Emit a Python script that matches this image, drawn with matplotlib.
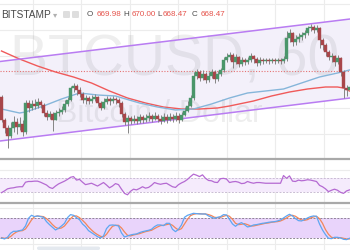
"""
BTCUSD 60 min chart, Bitstamp - channel, two moving averages, RSI and stochastic panes
"""

import matplotlib
matplotlib.use("Agg")
import matplotlib.pyplot as plt
from matplotlib.lines import Line2D
from matplotlib.patches import FancyBboxPatch
import numpy as np

# ---- price data (hourly candles) ----
first_open = 667.3
closes = [665.0, 664.2, 663.4, 664.2, 664.8, 664.3, 664.6, 663.8, 666.7, 666.2,
          666.6, 666.4, 666.8, 666.5, 665.7, 665.3, 665.6, 665.0, 665.7, 665.8,
          666.0, 666.6, 667.0, 668.2, 668.4, 668.0, 667.6, 667.0, 667.2, 666.9,
          667.1, 667.3, 666.7, 666.2, 666.8, 667.1, 666.9, 667.1, 667.0, 666.7,
          665.6, 664.8, 665.2, 664.9, 665.1, 664.9, 665.3, 665.0, 665.2, 665.4,
          665.1, 665.4, 665.1, 664.9, 665.3, 665.0, 665.3, 665.1, 665.4, 665.0,
          665.5, 665.9, 666.4, 667.2, 669.4, 669.8, 669.2, 669.6, 669.0, 669.4,
          669.8, 669.1, 669.6, 670.0, 671.0, 671.3, 671.5, 670.8, 671.3, 670.6,
          671.0, 670.8, 671.0, 671.4, 671.1, 670.7, 671.0, 670.9, 671.0, 670.9,
          671.0, 670.9, 671.0, 670.9, 671.1, 673.2, 673.7, 672.8, 673.1, 673.3,
          673.5, 673.7, 674.2, 674.3, 674.0, 674.2, 673.0, 672.5, 671.8, 671.3,
          671.4, 670.8, 671.2, 669.8, 668.2, 668.0, 668.3]
highs = [667.5, 665.2, 664.5, 664.8, 665.4, 665.2, 665.3, 665.0, 667.0, 667.0,
         667.0, 667.1, 667.2, 667.0, 666.7, 666.0, 665.9, 665.8, 666.0, 666.2,
         666.4, 667.0, 667.3, 668.4, 668.7, 668.6, 668.3, 667.8, 667.5, 667.4,
         667.5, 667.6, 667.4, 666.9, 667.2, 667.4, 667.3, 667.4, 667.3, 667.2,
         666.9, 665.8, 665.5, 665.4, 665.5, 665.4, 665.6, 665.5, 665.6, 665.8,
         665.6, 665.8, 665.6, 665.5, 665.7, 665.6, 665.7, 665.6, 665.8, 665.7,
         665.8, 666.3, 666.9, 667.5, 669.8, 670.1, 670.0, 670.0, 669.8, 669.8,
         670.1, 670.0, 669.9, 670.2, 671.3, 671.7, 671.8, 671.7, 671.6, 671.4,
         671.3, 671.2, 671.3, 671.7, 671.5, 671.3, 671.3, 671.2, 671.2, 671.2,
         671.2, 671.2, 671.2, 671.2, 671.4, 673.9, 674.1, 673.8, 673.5, 673.7,
         673.8, 674.0, 674.4, 674.6, 674.5, 674.5, 674.3, 673.2, 672.7, 672.0,
         671.7, 671.5, 671.5, 671.3, 670.0, 668.5, 668.6]
lows = [664.8, 663.7, 662.2, 663.2, 663.8, 663.6, 664.0, 663.4, 663.6, 665.8,
        666.0, 666.1, 666.2, 666.2, 665.4, 665.0, 665.1, 663.9, 665.2, 665.4,
        665.6, 665.8, 666.4, 666.9, 667.8, 667.5, 667.3, 666.7, 666.6, 666.6,
        666.7, 666.9, 666.4, 666.0, 666.1, 666.6, 666.5, 666.7, 666.6, 666.3,
        665.3, 664.5, 663.7, 664.6, 664.7, 664.6, 664.7, 664.7, 664.8, 664.9,
        664.8, 665.0, 664.8, 664.6, 664.8, 664.7, 664.9, 664.8, 664.9, 664.7,
        664.9, 665.4, 665.8, 666.3, 667.0, 669.1, 668.9, 669.0, 668.7, 668.8,
        669.2, 668.7, 668.9, 669.4, 669.8, 670.8, 671.0, 670.2, 670.6, 670.3,
        670.4, 670.5, 670.6, 670.8, 670.7, 670.4, 670.5, 670.6, 670.7, 670.6,
        670.7, 670.6, 670.7, 670.6, 670.7, 670.9, 672.8, 672.4, 672.5, 672.8,
        673.0, 673.2, 673.5, 673.9, 673.7, 673.8, 672.2, 672.0, 671.4, 671.0,
        670.8, 670.4, 670.6, 669.4, 667.2, 667.4, 667.8]

# moving averages (read at some bars)
ma_slow_idx = [0, 6, 12, 18, 24, 30, 36, 42, 48, 54, 60, 66, 72, 76, 84, 90,
               96, 102, 108, 112, 114, 116]
ma_slow = [671.9, 671.1, 670.4, 669.8, 669.3, 668.7, 667.9, 667.2, 666.7, 666.3,
           666.1, 666.1, 666.2, 666.4, 666.9, 667.4, 667.8, 668.1, 668.3, 668.3,
           668.2, 667.9]
ma_fast_idx = [0, 6, 8, 14, 20, 26, 32, 38, 46, 52, 58, 64, 70, 76, 82, 88, 94,
               100, 106, 112, 116]
ma_fast = [666.1, 665.7, 665.8, 666.4, 667.1, 667.7, 667.5, 667.4, 666.7, 666.3,
           666.0, 666.1, 666.6, 667.2, 667.7, 667.9, 668.1, 668.7, 669.3, 669.7,
           670.0]

# channel drawn on the chart
channel_x = [-0.5, 116.2]
channel_upper = [670.85, 675.1]
channel_lower = [662.9, 667.2]
price_line = 669.9

rsi = [28, 33, 39, 41, 42, 44, 45, 45, 58, 60, 60, 61, 61, 58, 54, 50, 43, 40,
       47, 53, 57, 61, 66, 72, 74, 64, 66, 58, 51, 53, 55, 51, 47, 52, 57, 50,
       42, 47, 54, 51, 38, 26, 22, 32, 38, 36, 40, 45, 41, 43, 49, 57, 54, 52,
       54, 55, 50, 45, 43, 51, 56, 60, 66, 74, 81, 78, 74, 79, 69, 63, 62, 58,
       57, 68, 69, 67, 57, 59, 60, 58, 54, 55, 60, 57, 55, 57, 57, 56, 55, 55,
       55, 55, 55, 55, 77, 69, 76, 61, 60, 64, 62, 63, 65, 64, 62, 60, 49, 45,
       39, 31, 35, 38, 35, 29, 26, 33, 36]

stoch_k = [21, 18, 23, 35, 41, 41, 43, 45, 57, 80, 89, 85, 87, 85, 83, 70, 61,
           53, 45, 50, 57, 65, 82, 91, 89, 82, 76, 63, 55, 43, 37, 31, 25, 21,
           27, 49, 59, 60, 59, 57, 36, 24, 27, 30, 32, 33, 37, 40, 42, 44, 47,
           55, 60, 60, 58, 65, 65, 47, 40, 47, 60, 83, 89, 92, 95, 94, 93, 93,
           93, 87, 83, 80, 83, 85, 91, 90, 77, 63, 56, 63, 67, 61, 54, 56, 60,
           61, 63, 65, 66, 68, 69, 70, 72, 75, 81, 87, 92, 87, 79, 73, 72, 76,
           81, 85, 87, 86, 63, 45, 31, 20, 19, 23, 23, 21, 17, 16, 20]
stoch_d = [22, 20, 21, 25, 33, 39, 42, 43, 48, 61, 75, 85, 87, 86, 85, 79, 71,
           61, 53, 49, 51, 57, 68, 79, 87, 87, 82, 74, 65, 54, 45, 37, 31, 26,
           24, 32, 45, 56, 59, 59, 51, 39, 29, 27, 30, 32, 34, 37, 40, 42, 44,
           49, 54, 58, 59, 61, 63, 59, 51, 45, 49, 63, 77, 88, 92, 94, 94, 93,
           93, 91, 88, 83, 82, 83, 86, 89, 86, 77, 65, 61, 62, 64, 61, 57, 57,
           59, 61, 63, 65, 66, 68, 69, 70, 72, 76, 81, 87, 89, 86, 80, 75, 74,
           76, 81, 84, 86, 79, 65, 46, 32, 23, 21, 22, 22, 20, 18, 18]

header_items = [("O", "669.98"), ("H", "670.00"), ("L", "668.47"), ("C", "668.47")]

# ---- style ----
UP = "#4a966a"
DOWN = "#a8464a"
WICK = "#858585"
GRID = "#ececec"
PURPLE = "#b97cf2"
FONT = ["Liberation Sans", "DejaVu Sans"]
plt.rcParams["font.family"] = FONT

W, H = 350, 250
fig = plt.figure(figsize=(W / 100, H / 100), dpi=100)
fig.patch.set_facecolor("white")


def pane(top, bottom):
    """axes spanning pixel rows top..bottom"""
    ax = fig.add_axes([0, 1 - bottom / H, 1, (bottom - top) / H])
    ax.set_xlim(-0.5, -0.5 + W / 3)
    ax.set_axis_off()
    return ax


vgrid = np.arange(10.5, 117, 16.15)
n = len(closes)
x = np.arange(n)

# ---- main pane ----
ax = pane(0, 158)
ax.set_ylim(677 - 15.8, 677)
for g in vgrid:
    ax.axvline(g, color=GRID, lw=0.8, zorder=0)
for g in np.arange(663.6, 677, 2.6):
    ax.axhline(g, color=GRID, lw=0.8, zorder=0)

ax.fill_between(channel_x, channel_lower, channel_upper, color="#f3f0fa", zorder=1, lw=0)
ax.plot(channel_x, channel_upper, color=PURPLE, lw=1.1, zorder=5)
ax.plot(channel_x, channel_lower, color=PURPLE, lw=1.1, zorder=5)

# watermark
ax.text(0.5, 0.62, "BTCUSD, 60", transform=ax.transAxes, ha="center", va="center",
        fontsize=41, color=(0, 0, 0, 0.065), zorder=2)
ax.text(0.455, 0.28, "Bitcoin / Dollar", transform=ax.transAxes, ha="center",
        va="center", fontsize=23, color=(0, 0, 0, 0.065), zorder=2)

ax.axhline(price_line, color="#e57373", lw=0.8, ls=(0, (1, 1.5)), zorder=3)
ax.plot(ma_slow_idx, ma_slow, color="#f05a5a", lw=1.0, zorder=4)
ax.plot(ma_fast_idx, ma_fast, color="#86b6da", lw=1.0, zorder=4)

opens = [first_open] + closes[:-1]
o = np.array(opens)
c = np.array(closes)
hi = np.maximum(np.array(highs), np.maximum(o, c))
lo = np.minimum(np.array(lows), np.minimum(o, c))
up = c >= o
cols = np.where(up, UP, DOWN)
ax.vlines(x, lo, hi, color=WICK, lw=0.7, zorder=6)
body = np.maximum(np.abs(c - o), 0.08)
ax.bar(x, body, bottom=np.minimum(o, c), width=0.75, color=cols, edgecolor=cols,
       lw=0.3, zorder=7)

# ---- RSI pane ----
ax_rsi = pane(160, 202)
ax_rsi.set_ylim(1.4, 121.4)
for g in vgrid:
    ax_rsi.axvline(g, color=GRID, lw=0.8, zorder=0)
ax_rsi.axhline(93, color=GRID, lw=0.8, zorder=0)
ax_rsi.axhspan(30, 70, color="#f5ebfc", lw=0, zorder=1)
for lvl in (30, 70):
    ax_rsi.axhline(lvl, color="#c9bcd3", lw=0.7, ls=(0, (2, 1.5)), zorder=2)
ax_rsi.plot(x, rsi, color="#b56ad2", lw=0.9, zorder=3)

# ---- Stochastic pane ----
ax_st = pane(204, 250)
ax_st.set_ylim(-15.1, 122.9)
for g in vgrid:
    ax_st.axvline(g, color=GRID, lw=0.8, zorder=0)
for g in (110.9, 2.9):
    ax_st.axhline(g, color=GRID, lw=0.8, zorder=0)
ax_st.axhspan(20, 80, color="#e9d4fb", lw=0, zorder=1)
for lvl in (20, 80):
    ax_st.axhline(lvl, color="#8f8596", lw=0.7, ls=(0, (2, 1.5)), zorder=2)
ax_st.plot(x, stoch_d, color="#f2865a", lw=0.9, zorder=3)
ax_st.plot(x, stoch_k, color="#5ea6f2", lw=0.9, zorder=4)

# pane separators
for yy in (159, 203):
    fig.add_artist(Line2D([0, 1], [1 - yy / H] * 2, color="#a9a9a9", lw=1.6,
                          transform=fig.transFigure))

# scroll thumb at bottom
fig.add_artist(FancyBboxPatch((37 / W, 0.0), 63 / W, 3.5 / H,
                              boxstyle="round,pad=0,rounding_size=0.006",
                              fc="#e4e9ef", ec="none", transform=fig.transFigure))

# ---- header ----
ty = 1 - 15 / H
fig.text(1 / W, ty, "BITSTAMP", fontsize=7.3, color="#4a4a4a", va="center")
fig.text(53 / W, ty, "\u25be", fontsize=6, color="#b0b0b0", va="center",
         family=["DejaVu Sans"])
for ix in (63, 72):
    fig.add_artist(FancyBboxPatch((ix / W, 1 - 18 / H), 7 / W, 7 / H,
                                  boxstyle="round,pad=0,rounding_size=0.004",
                                  fc="#dedede", ec="none", transform=fig.transFigure))
label_x = [87, 123, 157, 192]
value_x = [97, 132, 163, 201]
for (lab, val), lx, vx in zip(header_items, label_x, value_x):
    fig.text(lx / W, ty, lab, fontsize=5.8, color="#4a4a4a", va="center")
    fig.text(vx / W, ty, val, fontsize=5.8, color="#e5534b", va="center")

fig.savefig("out.png", dpi=100)
